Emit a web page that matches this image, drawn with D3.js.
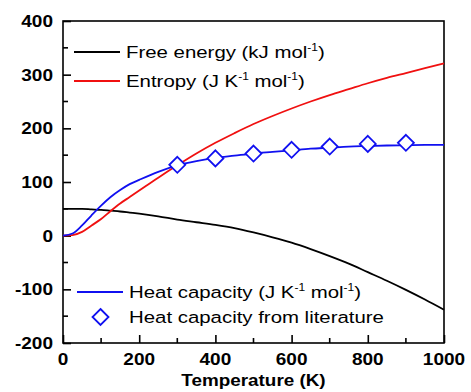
<!DOCTYPE html>
<html><head><meta charset="utf-8">
<script src="https://cdn.jsdelivr.net/npm/d3@7"></script>
<style>body{margin:0;background:#fff}svg{display:block}</style>
</head><body>
<svg id="c" width="471" height="392"></svg>
<script>
const temps = [0,25,50,75,100,125,150,175,200,250,300,350,400,450,500,550,600,650,700,750,800,850,900,950,1000];
const freeEnergy = [50,50,50,49,48,46.5,45,43,41,36,30,25,20,14,6,-3,-13,-25,-38,-52,-68,-84,-101,-119,-138];
const entropy = [0,1,7,19,31,46,60,72,84,108,131,153,173,191,208,223,237,250,262,273,284,294,303,312,321];
const heatCap = [0,4,19,38,56,72,85,96,104,119,131,139,145,149,153,156,159,162,164,166,167,168,168.5,169,169];
const litT = [300,400,500,600,700,800,900];
const litCp = [132,144,153,160,166,171,173];
const xTicks = [0,200,400,600,800,1000];
const yTicks = [-200,-100,0,100,200,300,400];

const svg = d3.select("#c");
const L=63, R=444, T=21, B=343;
const x = d3.scaleLinear().domain([0,1000]).range([L,R]);
const y = d3.scaleLinear().domain([-200,400]).range([B,T]);
const font = "'Liberation Sans', Arial, sans-serif";
const SX = 1.2;

function txt(xp, yp, anchor, opts){
  const g = svg.append("g").attr("transform",`translate(${xp},${yp}) scale(${opts.sx||SX},1)`);
  return g.append("text").attr("x",0).attr("y",0).attr("text-anchor",anchor)
    .attr("font-family",font).attr("font-size",opts.size||17).attr("font-weight",opts.bold?"bold":"normal").attr("fill","#000");
}

// frame
svg.append("rect").attr("x",L).attr("y",T).attr("width",R-L).attr("height",B-T)
  .attr("fill","none").attr("stroke","#000").attr("stroke-width",1.6);

// axes (ticks inward)
const gy = svg.append("g").attr("transform",`translate(${L},0)`).call(d3.axisLeft(y).tickValues(yTicks).tickSize(-8).tickFormat(""));
const gx = svg.append("g").attr("transform",`translate(0,${B})`).call(d3.axisBottom(x).tickValues(xTicks).tickSize(-8).tickFormat(""));
[gx,gy].forEach(g=>{
  g.select(".domain").remove();
  g.selectAll(".tick line").attr("stroke","#000").attr("stroke-width",1.6);
});
yTicks.forEach(v=>txt(53, y(v)+6, "end", {bold:1, sx:1.12, size:17}).text(v));
xTicks.forEach(v=>txt(x(v), 365, "middle", {bold:1, sx:1.12, size:17}).text(v));
// minor ticks
svg.append("g").selectAll("line").data(d3.range(-150,400,100)).join("line")
  .attr("x1",L).attr("x2",L+5).attr("y1",d=>y(d)).attr("y2",d=>y(d)).attr("stroke","#000").attr("stroke-width",1.6);
svg.append("g").selectAll("line").data(d3.range(100,1000,200)).join("line")
  .attr("x1",d=>x(d)).attr("x2",d=>x(d)).attr("y1",B).attr("y2",B-5).attr("stroke","#000").attr("stroke-width",1.6);

// axis title
txt((L+R)/2, 386, "middle", {bold:1, size:16, sx:1.18}).text("Temperature (K)");

// lines
const line = vals => d3.line().x((d,i)=>x(temps[i])).y(d=>y(d)).curve(d3.curveMonotoneX)(vals);
svg.append("path").attr("d",line(freeEnergy)).attr("fill","none").attr("stroke","#000").attr("stroke-width",1.8);
svg.append("path").attr("d",line(entropy)).attr("fill","none").attr("stroke","#f01010").attr("stroke-width",1.8);
svg.append("path").attr("d",line(heatCap)).attr("fill","none").attr("stroke","#1010f0").attr("stroke-width",1.8);

// diamonds
const diamond = (cx,cy,r)=>`M${cx},${cy-r}L${cx+r},${cy}L${cx},${cy+r}L${cx-r},${cy}Z`;
svg.append("g").selectAll("path").data(litT).join("path")
  .attr("d",(d,i)=>diamond(x(d),y(litCp[i]),8))
  .attr("fill","#fff").attr("stroke","#1010f0").attr("stroke-width",1.8);

// legend
function legText(xp, yp, parts){
  const t = txt(xp, yp, "start", {});
  let shift = 0;
  parts.forEach(p=>{
    const target = p.sup ? -7 : 0;
    const s = t.append("tspan").attr("dy", target - shift).text(p.t);
    if(p.sup) s.attr("font-size",10);
    shift = target;
  });
}
const legend = [
  {y:52, color:"#000", x1:74, x2:120, tx:126, parts:[{t:"Free energy (kJ mol"},{t:"-1",sup:1},{t:")"}]},
  {y:81, color:"#f01010", x1:74, x2:120, tx:126, parts:[{t:"Entropy (J K"},{t:"-1",sup:1},{t:" mol"},{t:"-1",sup:1},{t:")"}]},
  {y:292, color:"#1010f0", x1:77, x2:123, tx:129, parts:[{t:"Heat capacity (J K"},{t:"-1",sup:1},{t:" mol"},{t:"-1",sup:1},{t:")"}]}
];
legend.forEach(l=>{
  svg.append("line").attr("x1",l.x1).attr("x2",l.x2).attr("y1",l.y).attr("y2",l.y).attr("stroke",l.color).attr("stroke-width",1.8);
  legText(l.tx, l.y+6, l.parts);
});
svg.append("path").attr("d",diamond(100.5,317,8)).attr("fill","#fff").attr("stroke","#1010f0").attr("stroke-width",1.8);
legText(129, 323, [{t:"Heat capacity from literature"}]);
</script>
</body></html>
